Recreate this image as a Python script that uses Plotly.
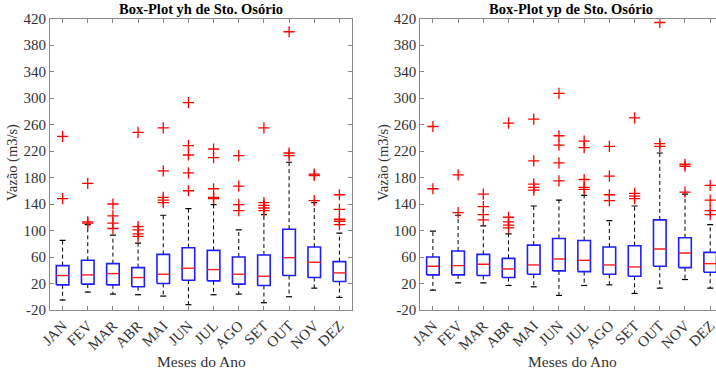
import plotly.graph_objects as go

months = ["JAN", "FEV", "MAR", "ABR", "MAI", "JUN", "JUL", "AGO", "SET", "OUT", "NOV", "DEZ"]
y_tick_vals = [-20, 20, 60, 100, 140, 180, 220, 260, 300, 340, 380, 420]
y_tick_text = ["-20", "20", "60", "100", "140", "180", "220", "260", "300", "340", "380", "420"]

# ---- yh (left) ----
yh_q1 = [18, 19, 18, 15, 20, 25, 24, 19, 17, 32, 29, 23]
yh_med = [32, 33, 35, 29, 34, 43, 41, 34, 31, 59, 52, 36]
yh_q3 = [47, 55, 50, 44, 64, 74, 70, 60, 63, 102, 75, 53]
yh_lo = [-5, 7, 4, 3, 1, -12, 3, 4, -9, 0, 13, -1]
yh_hi = [85, 109, 93, 81, 123, 133, 139, 101, 124, 203, 142, 96]
yh_out = [
    [242, 148],
    [171, 113, 111],
    [140, 122, 111, 103],
    [248, 106, 101, 95, 91],
    [255, 190, 150, 146, 142],
    [293, 228, 214, 187, 160],
    [223, 210, 163, 150, 148],
    [213, 167, 139, 130],
    [255, 142, 138, 134, 130],
    [400, 217, 213],
    [185, 183, 145],
    [154, 132, 117, 114, 109],
]

# ---- yp (right) ----
yp_q1 = [33, 33, 32, 29, 34, 39, 38, 34, 31, 46, 44, 37]
yp_med = [46, 47, 49, 42, 48, 57, 55, 48, 45, 72, 66, 50]
yp_q3 = [60, 69, 64, 58, 78, 88, 85, 75, 77, 116, 89, 67]
yp_lo = [10, 21, 21, 17, 15, 2, 17, 18, 5, 13, 26, 13]
yp_hi = [99, 123, 107, 95, 137, 146, 153, 115, 137, 217, 155, 109]
yp_out = [
    [257, 163],
    [184, 127],
    [155, 136, 124, 116],
    [262, 120, 113, 108, 104],
    [268, 205, 170, 165, 161],
    [307, 243, 229, 202, 175],
    [235, 225, 177, 165, 162],
    [227, 182, 154, 145],
    [270, 156, 152, 148],
    [414, 231, 227],
    [200, 197, 158],
    [168, 146, 130, 124],
]

W = 716
H = 372
BOX_HALF = 0.25
CAP_HALF = 0.12
FONT = "Liberation Serif, Times New Roman, serif"
TICK_COLOR = "#333333"
AXIS_COLOR = "#8a8a8a"

fig = go.Figure()


def add_boxes(q1, med, q3, lo, hi, outs, xa, ya):
    bx, by, mx, my, wx, wy, cx, cy, ox, oy = [], [], [], [], [], [], [], [], [], []
    for i in range(len(q1)):
        p = i + 1
        bx += [p - BOX_HALF, p + BOX_HALF, p + BOX_HALF, p - BOX_HALF, p - BOX_HALF, None]
        by += [q1[i], q1[i], q3[i], q3[i], q1[i], None]
        mx += [p - BOX_HALF, p + BOX_HALF, None]
        my += [med[i], med[i], None]
        wx += [p, p, None, p, p, None]
        wy += [q3[i], hi[i], None, q1[i], lo[i], None]
        cx += [p - CAP_HALF, p + CAP_HALF, None, p - CAP_HALF, p + CAP_HALF, None]
        cy += [hi[i], hi[i], None, lo[i], lo[i], None]
        for v in outs[i]:
            ox.append(p)
            oy.append(v)
    common = dict(xaxis=xa, yaxis=ya, showlegend=False, hoverinfo="skip")
    fig.add_trace(go.Scatter(x=wx, y=wy, mode="lines",
                             line=dict(color="black", width=1, dash="4px,3px"), **common))
    fig.add_trace(go.Scatter(x=cx, y=cy, mode="lines",
                             line=dict(color="black", width=1.2), **common))
    fig.add_trace(go.Scatter(x=bx, y=by, mode="lines",
                             line=dict(color="rgb(30,30,255)", width=1.6), **common))
    fig.add_trace(go.Scatter(x=mx, y=my, mode="lines",
                             line=dict(color="rgb(255,30,30)", width=1.4), **common))
    fig.add_trace(go.Scatter(x=ox, y=oy, mode="markers",
                             marker=dict(symbol="cross-thin", size=8, color="red",
                                         line=dict(color="red", width=1.3)), **common))


add_boxes(yh_q1, yh_med, yh_q3, yh_lo, yh_hi, yh_out, "x", "y")
add_boxes(yp_q1, yp_med, yp_q3, yp_lo, yp_hi, yp_out, "x2", "y2")

ydom = [1 - 310 / H, 1 - 18.5 / H]

xcommon = dict(
    tickmode="array", tickvals=list(range(1, 13)), ticktext=months,
    tickangle=-45, ticks="inside", ticklen=4, tickcolor=AXIS_COLOR,
    showline=True, linecolor=AXIS_COLOR, linewidth=1, mirror="ticks",
    showgrid=False, zeroline=False, automargin=False, ticklabeloverflow="allow",
    tickfont=dict(family=FONT, size=15, color=TICK_COLOR),
)
ycommon = dict(
    range=[-20, 420], tickmode="array", tickvals=y_tick_vals, ticktext=y_tick_text,
    ticks="inside", ticklen=4,
    tickcolor=AXIS_COLOR, showline=True, linecolor=AXIS_COLOR, linewidth=1,
    showgrid=False, zeroline=False, automargin=False, ticklabeloverflow="allow",
    tickfont=dict(family=FONT, size=15, color=TICK_COLOR),
)

fig.update_layout(
    width=W, height=H,
    margin=dict(l=0, r=0, t=0, b=0),
    paper_bgcolor="white", plot_bgcolor="white",
    xaxis=dict(domain=[50 / W, 352 / W], range=[0.5, 12.5], anchor="y", **xcommon),
    yaxis=dict(domain=ydom, anchor="x", mirror="ticks", **ycommon),
    xaxis2=dict(domain=[420.3 / W, 1.0], range=[0.5, 12.23], anchor="y2", **xcommon),
    yaxis2=dict(domain=ydom, anchor="x2", mirror=False, **ycommon),
)

ann = []


def txt(text, px, py, size, bold=False, angle=0, color="black"):
    ann.append(dict(
        text=("<b>%s</b>" % text) if bold else text,
        xref="paper", yref="paper", x=px / W, y=1 - py / H,
        xanchor="center", yanchor="middle", showarrow=False, textangle=angle,
        font=dict(family=FONT, size=size, color=color),
    ))


txt("Box-Plot yh de Sto. Osório", 201, 9.5, 14.5, bold=True)
txt("Box-Plot yp de Sto. Osório", 571, 9.5, 14.5, bold=True)
txt("Meses do Ano", 201, 361, 15.5, color=TICK_COLOR)
txt("Meses do Ano", 572, 361, 15.5, color=TICK_COLOR)
txt("Vazão (m3/s)", 12, 163, 14.5, angle=-90, color=TICK_COLOR)
txt("Vazão (m3/s)", 383, 163, 14.5, angle=-90, color=TICK_COLOR)

fig.update_layout(annotations=ann)

fig.write_html("out.html")
